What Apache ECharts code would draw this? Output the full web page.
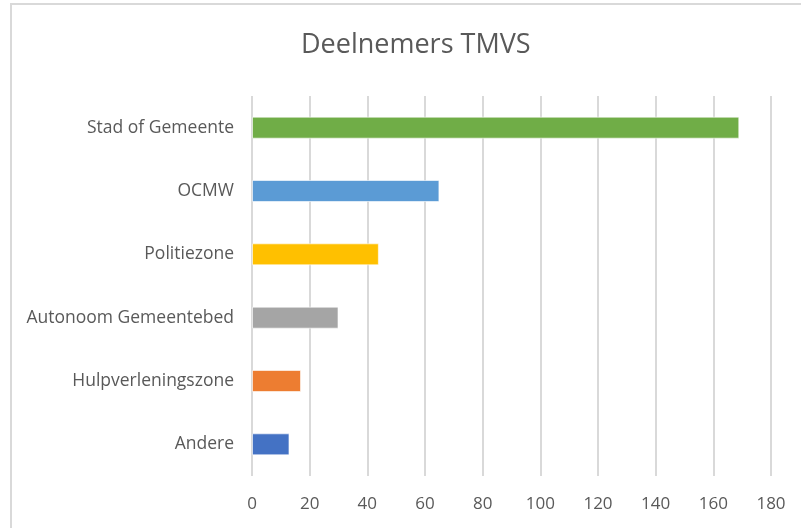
<!DOCTYPE html>
<html>
<head>
<meta charset="utf-8">
<script src="https://cdn.jsdelivr.net/npm/echarts@6/dist/echarts.min.js"></script>
<style>
  html, body { margin: 0; padding: 0; background: #fff; }
  #chart { width: 801px; height: 528px; }
</style>
</head>
<body>
<div id="chart"></div>
<script>
// categories from bottom to top
var categories = ["Andere", "Hulpverleningszone", "Autonoom Gemeentebed", "Politiezone", "OCMW", "Stad of Gemeente"];
var values = [13, 17, 30, 44, 65, 169];
var barColors = ["#4472C4", "#ED7D31", "#A5A5A5", "#FFC000", "#5B9BD5", "#70AD47"];
var axisMin = 0;
var axisMax = 180;
var axisStep = 20;

var myChart = echarts.init(document.getElementById("chart"));
var fontName = "Open Sans";

var barData = [];
for (var i = 0; i < values.length; i++) {
  barData.push({
    value: values[i],
    itemStyle: { color: barColors[i], borderColor: "rgba(255,255,255,0.6)", borderWidth: 1 }
  });
}

var option = {
  animation: false,
  backgroundColor: "#fff",
  title: {
    text: "Deelnemers TMVS",
    left: 296,
    top: 27,
    textStyle: { color: "#595959", fontFamily: fontName, fontSize: 27, fontWeight: "normal" }
  },
  graphic: [
    {
      type: "rect",
      shape: { x: 11, y: 4, width: 820, height: 560 },
      style: { fill: "none", stroke: "#d9d9d9", lineWidth: 2 },
      silent: true
    }
  ],
  grid: { left: 252, right: 30, top: 96, bottom: 52 },
  xAxis: {
    type: "value",
    min: axisMin,
    max: axisMax,
    interval: axisStep,
    axisLine: { show: false },
    axisTick: { show: false },
    splitLine: { show: true, lineStyle: { color: "#d9d9d9", width: 2 } },
    axisLabel: { color: "#595959", fontFamily: fontName, fontSize: 17, margin: 20 }
  },
  yAxis: {
    type: "category",
    data: categories,
    axisLine: { show: false },
    axisTick: { show: false },
    axisLabel: { color: "#595959", fontFamily: fontName, fontSize: 17.5, margin: 18 }
  },
  series: [
    {
      type: "bar",
      data: barData,
      barWidth: 22
    }
  ]
};

myChart.setOption(option);
</script>
</body>
</html>
